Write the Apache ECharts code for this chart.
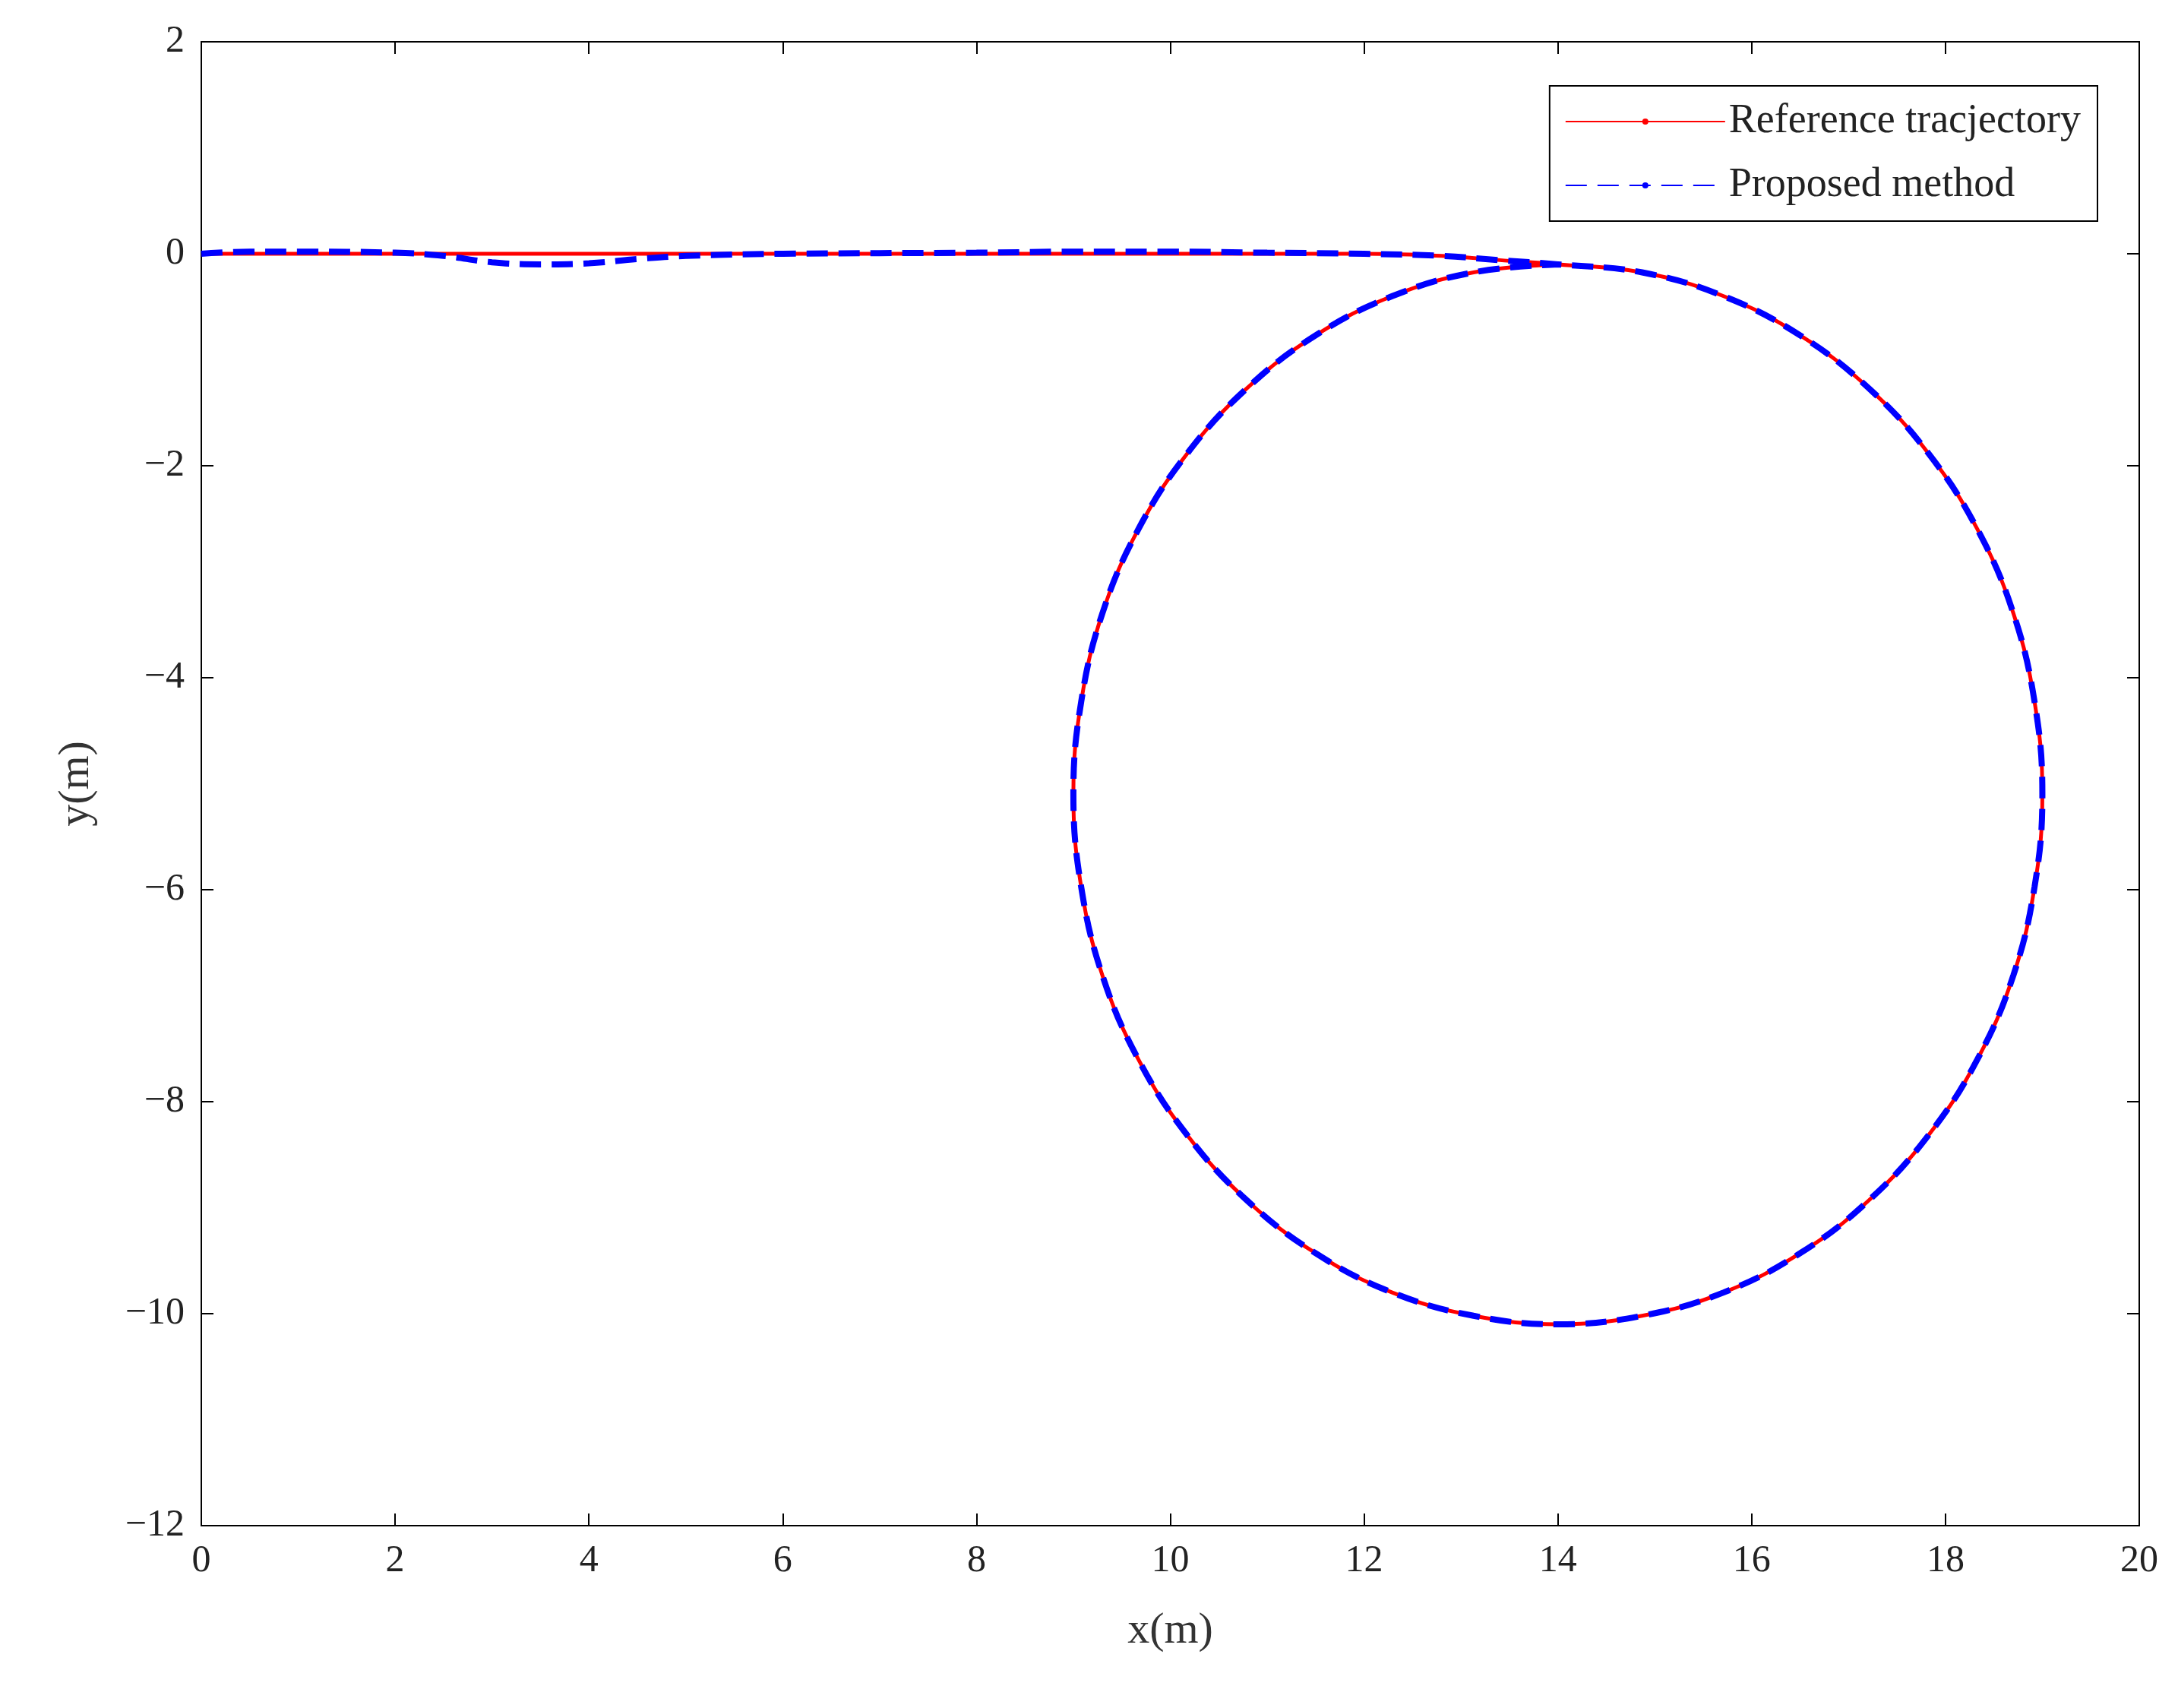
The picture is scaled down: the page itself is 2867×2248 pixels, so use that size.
<!DOCTYPE html>
<html><head><meta charset="utf-8">
<script src="https://cdn.jsdelivr.net/npm/echarts@6/dist/echarts.min.js"></script>
<style>html,body{margin:0;background:#fff}#c{width:2867px;height:2248px}</style>
</head><body><div id="c"></div>
<script>
const xTicks=[0,2,4,6,8,10,12,14,16,18,20];
const yTicks=[2,0,-2,-4,-6,-8,-10,-12];
const circle=[[14,-0.1],[14.87,-0.176],[15.71,-0.40],[16.5,-0.77],[17.21,-1.27],[17.83,-1.89],[18.33,-2.6],[18.70,-3.39],[18.92,-4.23],[19,-5.1],[18.92,-5.97],[18.70,-6.81],[18.33,-7.6],[17.83,-8.31],[17.21,-8.93],[16.5,-9.43],[15.71,-9.80],[14.87,-10.02],[14,-10.1],[13.13,-10.02],[12.29,-9.80],[11.5,-9.43],[10.79,-8.93],[10.17,-8.31],[9.67,-7.6],[9.30,-6.81],[9.08,-5.97],[9,-5.1],[9.08,-4.23],[9.30,-3.39],[9.67,-2.6],[10.17,-1.89],[10.79,-1.27],[11.5,-0.77],[12.29,-0.40],[13.13,-0.176],[14,-0.1]];
const refLead=[[0,0],[2,0],[4,0],[6,0],[8,0],[10,0],[12,0],[12.8,-0.02],[13.4,-0.06]];
const propLead=[[0,0],[0.5,0.02],[1,0.02],[2,0.01],[2.5,-0.02],[3,-0.08],[3.5,-0.1],[4,-0.09],[4.5,-0.05],[5,-0.02],[6,0],[8,0.01],[9,0.02],[10,0.02],[11,0.01],[12,0],[12.8,-0.02],[13.4,-0.06]];
const refData=refLead.concat(circle);
const propData=propLead.concat(circle);
const F='"Liberation Serif","DejaVu Serif",serif';
const fmt=v=>String(v).replace('-','\u2212');
const ax=(o)=>Object.assign({axisLine:{show:true,onZero:false,lineStyle:{color:'#000',width:2}},axisTick:{show:true,inside:true,length:16,lineStyle:{color:'#000',width:2}},splitLine:{show:false}},o);
const chart=echarts.init(document.getElementById('c'));
chart.setOption({
 animation:false,
 grid:{left:265,right:51,top:55,bottom:240,show:true,borderColor:'#000',borderWidth:2},
 legend:{right:106,top:113,orient:'vertical',itemWidth:210,itemHeight:10,itemGap:30,padding:[20,22,20,20],borderColor:'#000',borderWidth:2,backgroundColor:'#fff',
  textStyle:{fontFamily:F,fontSize:54,color:'#222'},data:['Reference tracjectory','Proposed method']},
 xAxis:[ax({type:'value',min:0,max:20,interval:2,name:'x(m)',nameLocation:'middle',nameGap:110,nameTextStyle:{fontFamily:F,fontSize:58,color:'#333'},axisLabel:{fontFamily:F,fontSize:50,color:'#222',margin:22}}),
  ax({type:'value',position:'top',min:0,max:20,interval:2,axisLabel:{show:false}})],
 yAxis:[ax({type:'value',min:-12,max:2,interval:2,name:'y(m)',nameLocation:'middle',nameGap:135,nameTextStyle:{fontFamily:F,fontSize:58,color:'#333'},axisLabel:{fontFamily:F,fontSize:50,color:'#222',margin:22,formatter:fmt}}),
  ax({type:'value',position:'right',min:-12,max:2,interval:2,axisLabel:{show:false}})],
 series:[
  {name:'Reference tracjectory',type:'line',data:refData,smooth:0.4,symbol:'none',lineStyle:{color:'#ff0000',width:5},itemStyle:{color:'#ff0000'}},
  {name:'Proposed method',type:'line',data:propData,smooth:0.4,symbol:'none',lineStyle:{color:'#0000ff',width:8,type:[28,14]},itemStyle:{color:'#0000ff'}}
 ]
});
</script></body></html>
